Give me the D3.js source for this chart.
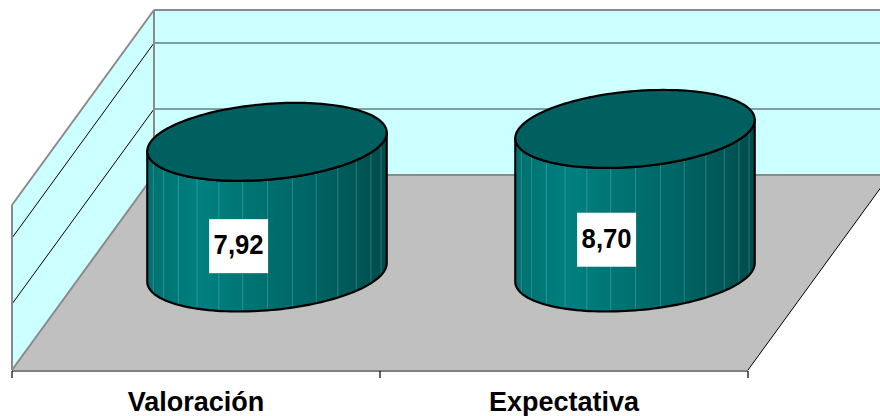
<!DOCTYPE html>
<html>
<head>
<meta charset="utf-8">
<script src="https://cdn.jsdelivr.net/npm/d3@7/dist/d3.min.js"></script>
<style>
  html, body { margin: 0; padding: 0; background: #ffffff; }
  svg { display: block; }
</style>
</head>
<body>
<svg id="chart" width="880" height="416"></svg>
<script>
// Data
const categories = ["Valoración", "Expectativa"];
const values = [7.92, 8.70];
const gridValues = [4, 8];
const axisMax = 10;

const svg = d3.select("#chart");

// Oblique 3D frame: back plane + depth vector toward the viewer
const backLeft = 154, backRight = 890;
const depth = [-142, 195];           // screen offset from back (z=0) to front (z=1)
const y = d3.scaleLinear().domain([0, axisMax]).range([175, 10]);
const x = d3.scaleBand().domain(categories).range([backLeft, backRight]);

function proj(px, v, z) {
  return [px + z * depth[0], y(v) + z * depth[1]];
}

const fmt = d3.formatLocale({ decimal: ",", thousands: ".", grouping: [3], currency: ["", " €"] }).format(".2f");

const wallFill = "#ccffff", edge = "#8a8a8a";
const line = d3.line();

// Floor
svg.append("path")
  .attr("d", line([proj(backLeft, 0, 0), proj(backRight, 0, 0), proj(backRight, 0, 1), proj(backLeft, 0, 1)]) + "Z")
  .attr("fill", "#c0c0c0").attr("stroke", "none");
svg.append("path")
  .attr("d", line([proj(backRight, 0, 0), proj(backRight, 0, 1)]))
  .attr("stroke", "#000").attr("stroke-width", 1).attr("fill", "none");

// Back wall
svg.append("path")
  .attr("d", line([proj(backLeft, axisMax, 0), proj(backRight, axisMax, 0), proj(backRight, 0, 0), proj(backLeft, 0, 0)]) + "Z")
  .attr("fill", wallFill).attr("stroke", "none");

// Side wall
svg.append("path")
  .attr("d", line([proj(backLeft, axisMax, 0), proj(backLeft, 0, 0), proj(backLeft, 0, 1), proj(backLeft, axisMax, 1)]) + "Z")
  .attr("fill", wallFill).attr("stroke", "none");

// Gridlines on both walls
gridValues.forEach(v => {
  svg.append("path")
    .attr("d", line([proj(backLeft, v, 0), proj(backRight, v, 0)]))
    .attr("stroke", "#5f8080").attr("stroke-width", 1.6).attr("fill", "none");
  svg.append("path")
    .attr("d", line([proj(backLeft, v, 0), proj(backLeft, v, 1)]))
    .attr("stroke", "#000").attr("stroke-width", 1).attr("fill", "none");
});

// Wall edges
[
  [proj(backLeft, axisMax, 0), proj(backRight, axisMax, 0)],
  [proj(backLeft, axisMax, 0), proj(backLeft, 0, 0)],
  [proj(backLeft, 0, 0), proj(backRight, 0, 0)],
  [proj(backLeft, axisMax, 0), proj(backLeft, axisMax, 1)],
  [proj(backLeft, axisMax, 1), proj(backLeft, 0, 1)],
  [proj(backLeft, 0, 0), proj(backLeft, 0, 1)]
].forEach(seg => {
  svg.append("path").attr("d", line(seg))
    .attr("stroke", edge).attr("stroke-width", 2).attr("fill", "none");
});

// Category axis along the front edge of the floor
const frontY = proj(backLeft, 0, 1)[1] + 1;
const frontX0 = proj(backLeft, 0, 1)[0];
const frontX1 = proj(backRight, 0, 1)[0];
const xFront = d3.scaleBand().domain(categories).range([frontX0, frontX1]);
const axisG = svg.append("g").attr("transform", `translate(0,${frontY})`);
axisG.append("path").attr("d", line([[frontX0, 0], [frontX1, 0]]))
  .attr("stroke", "#000").attr("stroke-width", 1.2).attr("fill", "none");
const tickXs = categories.map(c => xFront(c)).concat([frontX1]);
axisG.selectAll("line.tick").data(tickXs).join("line")
  .attr("x1", d => d).attr("x2", d => d).attr("y1", 0).attr("y2", 7)
  .attr("stroke", "#000").attr("stroke-width", 1.2);
axisG.selectAll("text.cat").data(categories).join("text")
  .attr("class", "cat")
  .attr("x", d => xFront(d) + xFront.bandwidth() / 2)
  .attr("y", 40)
  .attr("text-anchor", "middle")
  .attr("font-family", "Liberation Sans, Arial, sans-serif")
  .attr("font-weight", "bold")
  .attr("font-size", 27)
  .attr("fill", "#000")
  .text(d => d);

// Cylinder shading
const defs = svg.append("defs");
const grad = defs.append("linearGradient").attr("id", "side").attr("x1", "0%").attr("x2", "100%").attr("y1", "0%").attr("y2", "0%");
[["0%", "#006f6f"], ["22%", "#008080"], ["45%", "#007272"], ["75%", "#006060"], ["100%", "#004c4c"]]
  .forEach(([o, c]) => grad.append("stop").attr("offset", o).attr("stop-color", c));

const zc = 0.5;                       // cylinder centre depth
const rz = 0.2;                       // radius along depth (fraction of depth)
const R = x.bandwidth() * 0.316;      // radius along x
const Vx = rz * depth[0], Vy = rz * depth[1];
const t0 = Math.atan2(Vx, R);         // silhouette angle (right edge)

function ellipsePt(cx, cy, t) {
  return [cx + R * Math.cos(t) + Vx * Math.sin(t), cy + Vy * Math.sin(t)];
}
function arc(cx, cy, ta, tb, n) {
  return d3.range(n + 1).map(i => ellipsePt(cx, cy, ta + (tb - ta) * i / n));
}

categories.forEach((cat, i) => {
  const v = values[i];
  const bx = x(cat) + x.bandwidth() / 2;
  const [cx, cyTop] = proj(bx, v, zc);
  const cyBot = proj(bx, 0, zc)[1];
  const g = svg.append("g");

  // side surface
  const topFront = arc(cx, cyTop, t0, t0 + Math.PI, 80);
  const botFront = arc(cx, cyBot, t0 + Math.PI, t0, 80);
  g.append("path")
    .attr("d", line(topFront.concat(botFront)) + "Z")
    .attr("fill", "url(#side)").attr("stroke", "none");

  // facet lines
  const nFacets = 30;
  d3.range(nFacets).map(k => k * 2 * Math.PI / nFacets + 0.07).forEach(t => {
    let tt = t;
    while (tt < t0) tt += 2 * Math.PI;
    if (tt > t0 + 0.05 && tt < t0 + Math.PI - 0.05) {
      const a = ellipsePt(cx, cyTop, tt), b = ellipsePt(cx, cyBot, tt);
      g.append("path").attr("d", line([a, b]))
        .attr("stroke", "#8fd0d0").attr("stroke-opacity", 0.3).attr("stroke-width", 1).attr("fill", "none");
    }
  });

  g.append("path")
    .attr("d", line(topFront.concat(botFront)) + "Z")
    .attr("fill", "none").attr("stroke", "#000").attr("stroke-width", 2.2).attr("stroke-linejoin", "round");

  // top cap
  g.append("path")
    .attr("d", line(arc(cx, cyTop, 0, 2 * Math.PI, 160)) + "Z")
    .attr("fill", "#006060").attr("stroke", "#000").attr("stroke-width", 2.2);

  // value label on the front face, at half height
  const [lx, ly] = proj(bx, v / 2, zc + rz);
  const bw = 59, bh = 54;
  g.append("rect").attr("x", lx - bw / 2).attr("y", ly - bh / 2)
    .attr("width", bw).attr("height", bh).attr("fill", "#ffffff");
  g.append("text").attr("x", lx).attr("y", ly + 8)
    .attr("text-anchor", "middle")
    .attr("font-family", "Liberation Sans, Arial, sans-serif")
    .attr("font-weight", "bold").attr("font-size", 28).attr("fill", "#000")
    .attr("textLength", 50).attr("lengthAdjust", "spacingAndGlyphs")
    .text(fmt(v));
});
</script>
</body>
</html>
